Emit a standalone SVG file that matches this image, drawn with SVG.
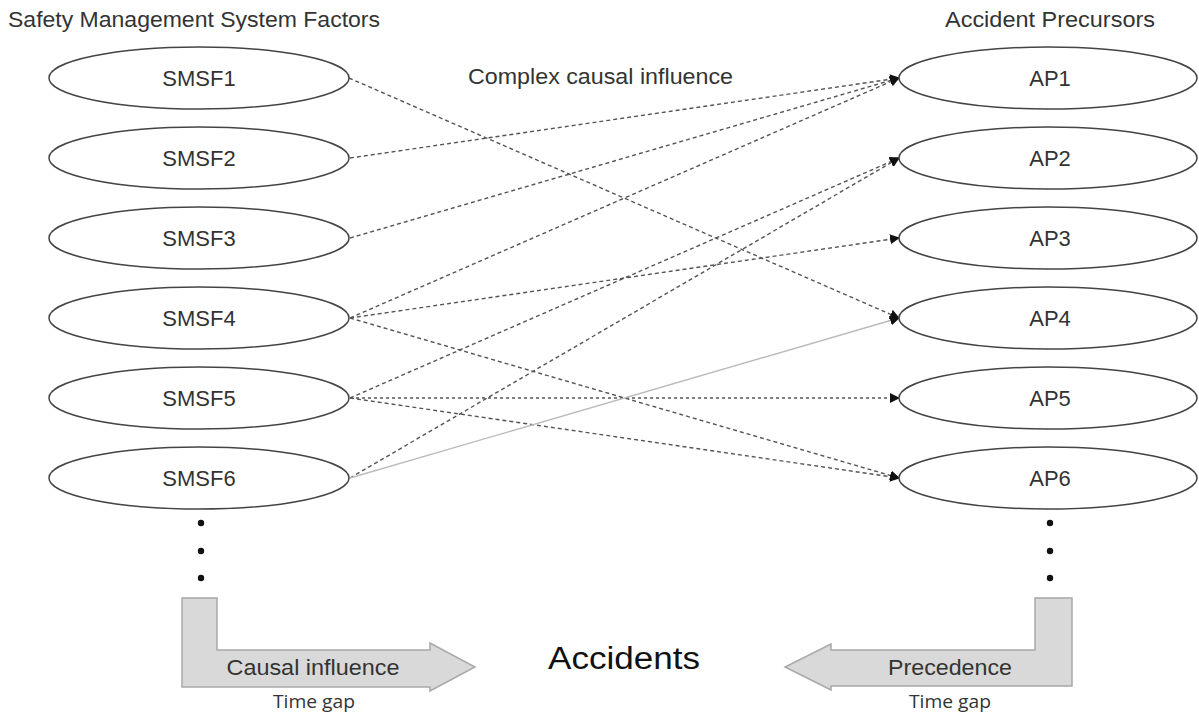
<svg xmlns="http://www.w3.org/2000/svg" width="1199" height="717" viewBox="0 0 1199 717">
<defs>
<marker id="ah" viewBox="0 0 10 10" refX="9" refY="5" markerWidth="10" markerHeight="10" markerUnits="userSpaceOnUse" orient="auto">
<path d="M0,0 L10,5 L0,10 Z" fill="#111"/>
</marker>
</defs>
<style>
text{font-family:"Liberation Sans",Arial,sans-serif;fill:#333}
.node ellipse{fill:#fff;stroke:#444;stroke-width:1.5}
.lbl{font-size:22px;text-anchor:middle}
.title{font-size:22px}
.c{fill:none;stroke:#555;stroke-width:1.4;stroke-dasharray:4 3;marker-end:url(#ah)}
.c.light{stroke:#bbb;stroke-dasharray:none}
.c.dot{stroke-dasharray:3 3}
.big{fill:#d9d9d9;stroke:#a8a8a8;stroke-width:1.5}
.gap{font-family:"Open Sans","Liberation Sans",sans-serif;font-size:18px;text-anchor:middle}
.dot{fill:#111}
</style>
<rect width="1199" height="717" fill="#fff"/>
<text class="title" x="8" y="27" textLength="372" lengthAdjust="spacingAndGlyphs">Safety Management System Factors</text>
<text class="title" x="945" y="27" textLength="210" lengthAdjust="spacingAndGlyphs">Accident Precursors</text>
<text x="468" y="84" font-size="22" textLength="265" lengthAdjust="spacingAndGlyphs">Complex causal influence</text>

<g id="connectors">
<line class="c" x1="349" y1="78" x2="899" y2="318"/>
<line class="c" x1="350" y1="158" x2="899" y2="78"/>
<line class="c" x1="350" y1="238" x2="899" y2="78"/>
<line class="c" x1="350" y1="318" x2="899" y2="78"/>
<line class="c" x1="350" y1="318" x2="899" y2="238"/>
<line class="c" x1="350" y1="318" x2="899" y2="478"/>
<line class="c" x1="350" y1="398" x2="899" y2="158"/>
<line class="c dot" x1="350" y1="398" x2="899" y2="398"/>
<line class="c" x1="350" y1="398" x2="899" y2="478"/>
<line class="c" x1="350" y1="478" x2="899" y2="158"/>
<line class="c light" x1="350" y1="478" x2="899" y2="318"/>
</g>

<g id="SMSF1" class="node"><ellipse cx="199" cy="78" rx="150" ry="31"/><text class="lbl" x="199" y="86">SMSF1</text></g>
<g id="SMSF2" class="node"><ellipse cx="199" cy="158" rx="150" ry="31"/><text class="lbl" x="199" y="166">SMSF2</text></g>
<g id="SMSF3" class="node"><ellipse cx="199" cy="238" rx="150" ry="31"/><text class="lbl" x="199" y="246">SMSF3</text></g>
<g id="SMSF4" class="node"><ellipse cx="199" cy="318" rx="150" ry="31"/><text class="lbl" x="199" y="326">SMSF4</text></g>
<g id="SMSF5" class="node"><ellipse cx="199" cy="398" rx="150" ry="31"/><text class="lbl" x="199" y="406">SMSF5</text></g>
<g id="SMSF6" class="node"><ellipse cx="199" cy="478" rx="150" ry="31"/><text class="lbl" x="199" y="486">SMSF6</text></g>

<g id="AP1" class="node"><ellipse cx="1048" cy="78" rx="149" ry="31"/><text class="lbl" x="1050" y="86">AP1</text></g>
<g id="AP2" class="node"><ellipse cx="1048" cy="158" rx="149" ry="31"/><text class="lbl" x="1050" y="166">AP2</text></g>
<g id="AP3" class="node"><ellipse cx="1048" cy="238" rx="149" ry="31"/><text class="lbl" x="1050" y="246">AP3</text></g>
<g id="AP4" class="node"><ellipse cx="1048" cy="318" rx="149" ry="31"/><text class="lbl" x="1050" y="326">AP4</text></g>
<g id="AP5" class="node"><ellipse cx="1048" cy="398" rx="149" ry="31"/><text class="lbl" x="1050" y="406">AP5</text></g>
<g id="AP6" class="node"><ellipse cx="1048" cy="478" rx="149" ry="31"/><text class="lbl" x="1050" y="486">AP6</text></g>

<g id="dots">
<circle class="dot" cx="201" cy="523" r="3.2"/>
<circle class="dot" cx="201" cy="551" r="3.2"/>
<circle class="dot" cx="201" cy="578" r="3.2"/>
<circle class="dot" cx="1050" cy="523" r="3.2"/>
<circle class="dot" cx="1050" cy="551" r="3.2"/>
<circle class="dot" cx="1050" cy="578" r="3.2"/>
</g>

<g id="causal">
<polygon class="big" points="182,598 217,598 217,650 430,650 430,643 475,667 430,691 430,687 182,687"/>
<text x="313" y="675" font-size="22" text-anchor="middle" textLength="173" lengthAdjust="spacingAndGlyphs">Causal influence</text>
<text class="gap" x="314" y="708" textLength="82" lengthAdjust="spacingAndGlyphs">Time gap</text>
</g>

<g id="precedence">
<polygon class="big" points="1072,598 1035,598 1035,650 831,650 831,644 785,667 831,690 831,686 1072,686"/>
<text x="950" y="675" font-size="22" text-anchor="middle" textLength="124" lengthAdjust="spacingAndGlyphs">Precedence</text>
<text class="gap" x="950" y="708" textLength="82" lengthAdjust="spacingAndGlyphs">Time gap</text>
</g>

<g id="accidents">
<text x="624" y="669" font-size="31" text-anchor="middle" textLength="152" lengthAdjust="spacingAndGlyphs" style="fill:#111">Accidents</text>
</g>
</svg>
